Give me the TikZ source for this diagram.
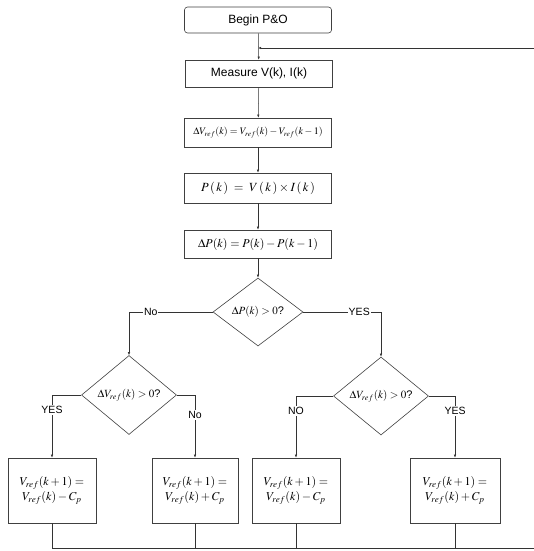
\documentclass[tikz,border=0pt]{standalone}
\usepackage{mathptmx}
\usepackage[no-math]{fontspec}
\setmainfont{Liberation Sans}
\usetikzlibrary{shapes.geometric,arrows.meta}

\tikzset{
  box/.style={draw=black!75, line width=0.6pt, fill=white, minimum width=147pt, minimum height=28pt, inner sep=2pt, font=\fontsize{12}{14}\selectfont},
  rbox/.style={box, rounded corners=3pt},
  lowbox/.style={draw=black!75, line width=0.6pt, fill=white, minimum width=88pt, minimum height=65pt, align=center, inner sep=2pt, font=\fontsize{12}{15}\selectfont},
  test/.style={draw=black!75, line width=0.6pt, diamond, inner sep=0pt, font=\fontsize{11}{13}\selectfont},
  arr/.style={draw=black!80, line width=0.5pt, -{Latex[length=3pt,width=2.4pt]}},
  line/.style={draw=black!80, line width=0.5pt},
  answer/.style={fill=white, inner sep=1pt, font=\fontsize{10.5}{12}\selectfont}
}

\begin{document}
\begin{tikzpicture}[x=1pt,y=-1pt]
\useasboundingbox (0,0) rectangle (534,551);

% Main chain of boxes
\node [rbox, minimum height=26pt] (begin) at (258,20) {Begin P\&O};
\node [box, minimum height=27pt] (meas) at (259,73.5) {Measure V(k), I(k)};
\node [box, minimum height=29pt, font=\fontsize{10}{12}\selectfont] (dv) at (258,132.5) {$\Delta V_{ref}(k)=V_{ref}(k)-V_{ref}(k-1)$};
\node [box, minimum height=30pt, font=\fontsize{12.5}{14}\selectfont] (pw) at (258,188) {$P\,(\,k\,)\;=\;V\,(\,k\,)\times I\,(\,k\,)$};
\node [box] (dp) at (258,244) {$\Delta P(k)=P(k)-P(k-1)$};

% Decisions
\node [test, minimum width=90pt, minimum height=68pt] (d1) at (258,312) {$\Delta P(k)>0$?};
\node [test, minimum width=95pt, minimum height=79pt] (d2) at (129,395) {$\Delta V_{ref}(k)>0$?};
\node [test, minimum width=95pt, minimum height=78pt] (d3) at (381,396) {$\Delta V_{ref}(k)>0$?};

% New reference voltage
\node [lowbox] (b1) at (52,490.5) {$V_{ref}(k+1)=$\\$V_{ref}(k)-C_p$};
\node [lowbox, minimum width=86pt] (b2) at (195,490.5) {$V_{ref}(k+1)=$\\$V_{ref}(k)+C_p$};
\node [lowbox] (b3) at (296,490.5) {$V_{ref}(k+1)=$\\$V_{ref}(k)-C_p$};
\node [lowbox, minimum width=90pt] (b4) at (455,490.5) {$V_{ref}(k+1)=$\\$V_{ref}(k)+C_p$};

% Ends of the return loop
\coordinate (rt) at (534,48);
\coordinate (rb) at (534,548);

% Connectors
\draw [arr] (begin) -- (meas);
\draw [arr] (rt) -- (begin |- rt);
\draw [arr] (meas) -- (dv);
\draw [arr] (dv) -- (pw);
\draw [arr] (pw) -- (dp);
\draw [arr] (dp) -- (d1);
\draw [arr] (d1.west) -| node [answer, pos=0.37] {No} (d2.north);
\draw [arr] (d1.east) -| node [answer, pos=0.36] {YES} (d3.north);
\draw [arr] (d2.west) -| node [answer, pos=0.62] {YES} (b1.north);
\draw [arr] (d2.east) -| node [answer, pos=0.66] {No} (b2.north);
\draw [arr] (d3.west) -| node [answer, pos=0.62] {NO} (b3.north);
\draw [arr] (d3.east) -| node [answer, pos=0.62] {YES} (b4.north);

% Back to the measurement
\draw [line] (b1.south) |- (rb);
\foreach \b in {b2,b3,b4}
  \draw [line] (\b.south) -- (\b.south |- rb);

\end{tikzpicture}
\end{document}
